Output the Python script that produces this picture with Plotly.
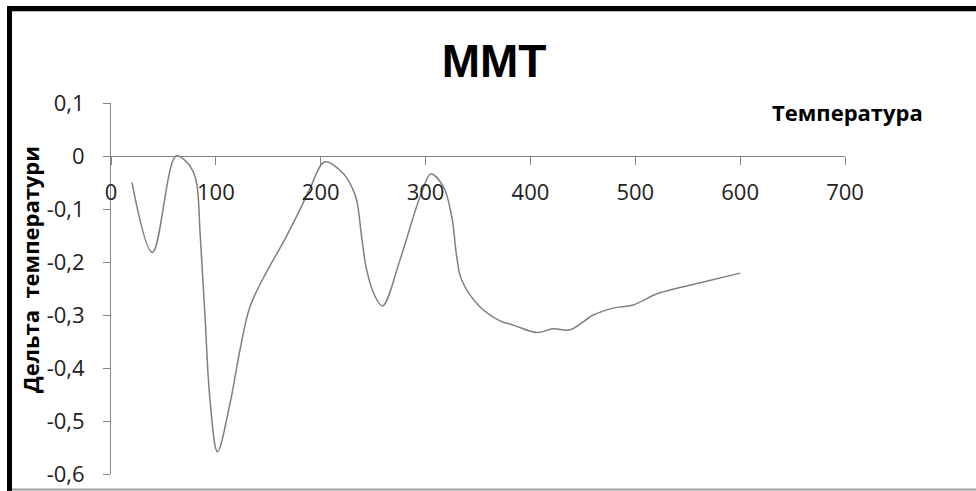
import plotly.graph_objects as go

# Data
temperature = [20, 39.5, 62, 72, 78, 82, 85, 89.6, 94.4, 101.5, 113.5, 123, 132.6,
               148, 165, 180, 190, 204, 221.5, 230, 234.3, 239, 243.8, 251.8, 259,
               275.6, 288.3, 297, 305, 317, 325, 329.7, 334.4, 352, 370, 385, 406,
               421.8, 437.7, 460, 479, 498, 522, 560, 600]
delta = [-0.05, -0.182, 0.0, -0.011, -0.028, -0.055, -0.146, -0.30, -0.46,
         -0.558, -0.467, -0.366, -0.284, -0.22, -0.16, -0.102, -0.06, -0.011, -0.033,
         -0.06, -0.083, -0.152, -0.215, -0.265, -0.283, -0.196, -0.115, -0.065,
         -0.034, -0.058, -0.115, -0.19, -0.234, -0.285, -0.31, -0.32, -0.333,
         -0.326, -0.328, -0.30, -0.287, -0.281, -0.259, -0.24, -0.221]

x_ticks = [0, 100, 200, 300, 400, 500, 600, 700]
x_ticktext = ["0", "100", "200", "300", "400", "500", "600", "700"]
y_ticks = [-0.6, -0.5, -0.4, -0.3, -0.2, -0.1, 0, 0.1]
y_ticktext = ["-0,6", "-0,5", "-0,4", "-0,3", "-0,2", "-0,1", "0", "0,1"]

title_text = "MMT"
x_title = "Температура"
y_title = "Дельта  температури"

W, H = 976, 491
L, R, T, B = 111, 131, 103, 17
pw, ph = W - L - R, H - T - B


def px(xp):
    return (xp - L) / pw


def py(yp):
    return (H - B - yp) / ph


fig = go.Figure()
fig.add_trace(go.Scatter(
    x=temperature, y=delta, mode="lines",
    line=dict(color="#808080", width=1.5, shape="spline", smoothing=1.0),
    showlegend=False, hoverinfo="x+y",
))

axis_color = "#868686"
tick_font = dict(family="Open Sans", size=22, color="#222222")

fig.update_layout(
    width=W, height=H,
    margin=dict(l=L, r=R, t=T, b=B, autoexpand=False),
    paper_bgcolor="white", plot_bgcolor="white",
    showlegend=False,
    title=dict(text="<b>" + title_text + "</b>", x=494 / W, y=1 - 61 / H,
               xanchor="center", yanchor="middle", xref="container", yref="container",
               font=dict(family="Liberation Sans", size=46, color="#000000")),
    xaxis=dict(
        range=[0, 700], tickvals=x_ticks, ticktext=x_ticktext,
        showgrid=False, zeroline=False, showline=True, linecolor=axis_color, linewidth=1,
        ticks="outside", ticklen=8, tickcolor=axis_color, tickwidth=1,
        tickfont=tick_font, ticklabelstandoff=9,
        anchor="free", position=6 / 7,
    ),
    yaxis=dict(
        range=[-0.6, 0.1], tickvals=y_ticks, ticktext=y_ticktext,
        showgrid=False, zeroline=False, showline=True, linecolor=axis_color, linewidth=1,
        ticks="outside", ticklen=7, tickcolor=axis_color, tickwidth=1,
        tickfont=tick_font, ticklabelstandoff=14,
    ),
    annotations=[
        dict(text="<b>" + x_title + "</b>", xref="paper", yref="paper",
             x=px(847), y=py(112), xanchor="center", yanchor="middle", showarrow=False,
             font=dict(family="Open Sans", size=22, color="#000000")),
        dict(text="<b>" + y_title + "</b>", xref="paper", yref="paper",
             x=px(30), y=py(270), xanchor="center", yanchor="middle", showarrow=False,
             textangle=-90,
             font=dict(family="Open Sans", size=22, color="#000000")),
    ],
    shapes=[
        dict(type="rect", xref="paper", yref="paper", x0=px(7), x1=px(12), y0=py(491), y1=py(6),
             fillcolor="#000000", line=dict(width=0), layer="above"),
        dict(type="rect", xref="paper", yref="paper", x0=px(7), x1=px(980), y0=py(11), y1=py(6),
             fillcolor="#000000", line=dict(width=0), layer="above"),
        dict(type="line", xref="paper", yref="paper", x0=px(12), x1=px(980), y0=py(11.5), y1=py(11.5),
             line=dict(color="#b0b0b0", width=1), layer="above"),
        dict(type="line", xref="paper", yref="paper", x0=px(12), x1=px(980), y0=py(489.5), y1=py(489.5),
             line=dict(color="#a0a0a0", width=2), layer="above"),
    ],
)

fig.write_html(
    "out.html",
    config={"displayModeBar": False},
    post_script="document.body.style.margin='0';document.body.style.padding='0';"
                "document.documentElement.style.overflow='hidden';",
)
